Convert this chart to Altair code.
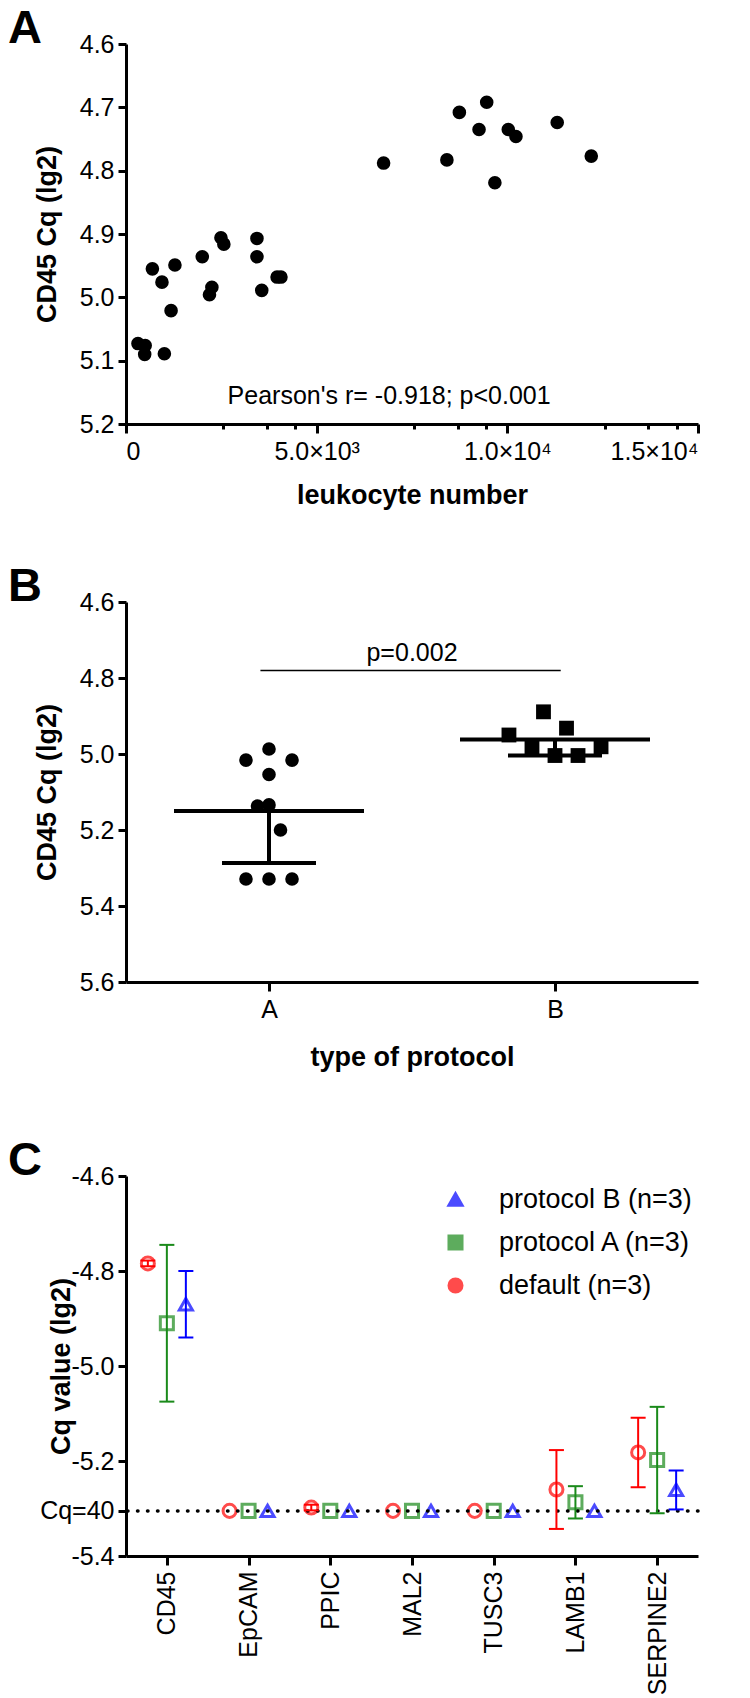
import altair as alt
import pandas as pd

FONT = "Liberation Sans, Arial, sans-serif"

# ---------------- Panel A data ----------------
leukocytes = [314, 503, 490, 1006, 692, 943, 1283, 1182, 2000, 2252, 2189, 2490, 2566,
              3434, 3434, 3560, 3962, 4063, 6755, 8415, 8742, 9459, 9258, 9673, 10025,
              10226, 11308, 12201]
cd45_cq = [5.073, 5.076, 5.090, 5.089, 4.955, 4.976, 4.949, 5.021, 4.936, 4.984, 4.996,
           4.906, 4.916, 4.907, 4.936, 4.989, 4.968, 4.968, 4.788, 4.783, 4.708, 4.692,
           4.735, 4.819, 4.735, 4.746, 4.724, 4.777]
x_major = [0, 5000, 10000, 15000]
x_major_labels = ["0", "5.0×10³", "1.0×10⁴", "1.5×10⁴"]
x_minor = [2550, 3700, 4440, 7550, 8700, 9440, 12550, 13700, 14440]
yA_ticks = [4.6, 4.7, 4.8, 4.9, 5.0, 5.1, 5.2]
pearson_text = ["Pearson's r= -0.918; p<0.001"]
pearson_pos = [6900]
pearson_cq = [5.155]

# ---------------- Panel B data ----------------
protocols = ["A", "B"]
groupA_cq = [4.987, 5.016, 5.016, 5.054, 5.137, 5.134, 5.200, 5.329, 5.329, 5.329]
groupA_jit = [0, -1, 1, 0, -0.5, 0, 0.5, -1, 0, 1]
groupB_cq = [4.889, 4.932, 4.950, 4.981, 4.981, 5.004, 5.004]
groupB_jit = [-0.5, 0.5, -2, -1, 2, 0, 1]
protocol_mean = [5.150, 4.962]
protocol_sd = [0.137, 0.042]
yB_ticks = [4.6, 4.8, 5.0, 5.2, 5.4, 5.6]
p_text = ["p=0.002"]
p_line_cq = [4.78]
p_line_from = [-0.03]   # relative to protocol A position
p_line_to = [0.02]      # relative to protocol B position

# ---------------- Panel C data ----------------
genes = ["CD45", "EpCAM", "PPIC", "MAL2", "TUSC3", "LAMB1", "SERPINE2"]
series_names = ["default (n=3)", "protocol A (n=3)", "protocol B (n=3)"]
legend_order = ["protocol B (n=3)", "protocol A (n=3)", "default (n=3)"]
legend_colors = ["#0000ff", "#1a8a1a", "#ff0000"]
legend_shapes = ["triangle-up", "square", "circle"]
series_offset = [-1, 0, 1]
default_mean = [-4.784, -5.305, -5.298, -5.305, -5.305, -5.260, -5.182]
default_sd = [0.006, 0, 0.006, 0, 0, 0.083, 0.073]
protA_mean = [-4.910, -5.305, -5.305, -5.305, -5.305, -5.287, -5.198]
protA_sd = [0.165, 0, 0, 0, 0, 0.034, 0.112]
protB_mean = [-4.870, -5.305, -5.305, -5.305, -5.305, -5.305, -5.261]
protB_sd = [0.070, 0, 0, 0, 0, 0, 0.041]
cq40_value = -5.305
cq40_label = "Cq=40"
yC_ticks = [-4.6, -4.8, -5.0, -5.2, cq40_value, -5.4]

W = 572
H = 380
TICK_FS = 25
TITLE_FS = 27


def letter(txt):
    return alt.TitleParams(text=txt, anchor="start", frame="group", fontSize=47,
                           fontWeight="bold", font=FONT, color="black",
                           baseline="alphabetic", offset=0, dx=-118, dy=58)


# ---------------- Panel A ----------------
dfA = pd.DataFrame({"leuko": leukocytes, "cq": cd45_cq})
lab = "''"
for v, t in zip(reversed(x_major), reversed(x_major_labels)):
    lab = f"datum.value == {v} ? '{t}' : ({lab})"
major_list = "[" + ",".join(str(v) for v in x_major) + "]"

xA = alt.X("leuko:Q", scale=alt.Scale(domain=[0, 15000], nice=False, zero=False),
           axis=alt.Axis(title="leukocyte number", values=sorted(x_major + x_minor),
                         labelExpr=lab, labelPadding=6, titlePadding=18,
                         tickSize={"condition": {"test": f"indexof({major_list}, datum.value) < 0",
                                                 "value": 5}, "value": 9}))
yA = alt.Y("cq:Q", scale=alt.Scale(domain=[4.6, 5.2], reverse=True, nice=False, zero=False),
           axis=alt.Axis(title="CD45 Cq (lg2)", values=yA_ticks, format=".1f", titlePadding=18))

pointsA = alt.Chart(dfA).mark_circle(size=185, color="black", opacity=1).encode(x=xA, y=yA)
textA = alt.Chart(pd.DataFrame({"t": pearson_text, "x": pearson_pos, "y": pearson_cq})).mark_text(
    font=FONT, fontSize=25, color="black", align="center", baseline="middle"
).encode(x="x:Q", y="y:Q", text="t:N")
panelA = alt.layer(pointsA, textA).properties(width=W, height=H, title=letter("A"))

# ---------------- Panel B ----------------
dfB = pd.DataFrame({
    "group": ["A"] * len(groupA_cq) + ["B"] * len(groupB_cq),
    "cq": groupA_cq + groupB_cq,
    "jit": groupA_jit + groupB_jit,
})
dfBs = pd.DataFrame({"group": protocols, "mean": protocol_mean, "sd": protocol_sd})
prot_list = "['" + "','".join(protocols) + "']"
pos_expr = f"indexof({prot_list}, datum.group) + 0.5"
JIT = 0.0805

xB_axis = alt.Axis(title="type of protocol", values=[0.5, 1.5],
                   labelExpr=f"{prot_list}[round(datum.value - 0.5)]",
                   labelPadding=6, titlePadding=22, tickSize=9)
xB_scale = alt.Scale(domain=[0, 2], nice=False, zero=False)
yB_scale = alt.Scale(domain=[4.6, 5.6], reverse=True, nice=False, zero=False)
yB_axis = alt.Axis(title="CD45 Cq (lg2)", values=yB_ticks, format=".1f", titlePadding=18)

baseB = alt.Chart(dfB).transform_calculate(pos=pos_expr).transform_calculate(
    xj=f"datum.pos + datum.jit * {JIT}")
circB = baseB.transform_filter("datum.group == 'A'").mark_circle(size=185, color="black", opacity=1).encode(
    x=alt.X("xj:Q", scale=xB_scale, axis=xB_axis), y=alt.Y("cq:Q", scale=yB_scale, axis=yB_axis))
sqB = baseB.transform_filter("datum.group == 'B'").mark_square(size=220, color="black", opacity=1).encode(
    x="xj:Q", y="cq:Q")

statB = alt.Chart(dfBs).transform_calculate(pos=pos_expr).transform_calculate(
    lo="datum.mean + datum.sd")
meanB = statB.mark_tick(orient="horizontal", size=190, thickness=4, color="black", opacity=1).encode(
    x="pos:Q", y="mean:Q")
errB = statB.mark_rule(strokeWidth=4, color="black").encode(x="pos:Q", y="mean:Q", y2="lo:Q")
capB = statB.mark_tick(orient="horizontal", size=94, thickness=4, color="black", opacity=1).encode(
    x="pos:Q", y="lo:Q")

sigdf = pd.DataFrame({"t": p_text, "y": p_line_cq, "a": p_line_from, "b": p_line_to})
sigB = alt.Chart(sigdf).transform_calculate(x1="0.5 + datum.a", x2="1.5 + datum.b").mark_rule(
    strokeWidth=1.5, color="black").encode(x="x1:Q", x2="x2:Q", y="y:Q")
sigT = alt.Chart(sigdf).transform_calculate(xm="1.0").mark_text(
    font=FONT, fontSize=25, color="black", baseline="bottom", dy=-4
).encode(x="xm:Q", y="y:Q", text="t:N")

panelB = alt.layer(circB, sqB, meanB, errB, capB, sigB, sigT).properties(
    width=W, height=H, title=letter("B"))

# ---------------- Panel C ----------------
rows = []
for s, off, means, sds in zip(series_names, series_offset,
                              [default_mean, protA_mean, protB_mean],
                              [default_sd, protA_sd, protB_sd]):
    for g, m, sd in zip(genes, means, sds):
        rows.append({"gene": g, "series": s, "off": off, "mean": m, "sd": sd})
dfC = pd.DataFrame(rows)

xC = alt.X("gene:N", scale=alt.Scale(type="point", domain=genes, padding=0.5),
           axis=alt.Axis(title=None, labelAngle=270, labelPadding=6, tickSize=9))
xoffC = alt.XOffset("off:Q", scale=alt.Scale(domain=[-1, 1], range=[-19, 19]))
yC_lab = (f"abs(datum.value - ({cq40_value})) < 0.001 ? '{cq40_label}' : "
          "'-' + format(abs(datum.value), '.1f')")
yC = alt.Y("mean:Q", scale=alt.Scale(domain=[-5.4, -4.6], nice=False, zero=False),
           axis=alt.Axis(title="Cq value (lg2)", values=yC_ticks, labelExpr=yC_lab,
                         titleX=-51))
colC = alt.Color("series:N", scale=alt.Scale(domain=legend_order, range=legend_colors),
                 legend=alt.Legend(title=None, orient="none", legendX=316, legendY=1142,
                                   labelFontSize=27, labelFont=FONT, labelColor="black",
                                   labelLimit=400, symbolSize=170, symbolStrokeWidth=3,
                                   symbolFillColor="transparent",
                                   rowPadding=15, labelOffset=30, padding=0))
shapeC = alt.Shape("series:N", scale=alt.Scale(domain=legend_order, range=legend_shapes))
strokeC = alt.Stroke("series:N", scale=alt.Scale(domain=legend_order, range=legend_colors),
                     legend=None)
fillC = alt.Fill("series:N", scale=alt.Scale(domain=legend_order, range=legend_colors),
                 legend=None)

dotted = alt.Chart(pd.DataFrame({"y": [cq40_value]})).mark_rule(
    strokeDash=[0.5, 9.5], strokeWidth=3.5, strokeCap="round", color="black").encode(y="y:Q")

ptsC = alt.Chart(dfC).mark_point(filled=False, size=170, strokeWidth=3).encode(
    x=xC, xOffset=xoffC, y=yC, color=colC, shape=shapeC, fill=alt.value("transparent"))

baseC = alt.Chart(dfC).transform_filter("datum.sd > 0").transform_calculate(
    lo="datum.mean - datum.sd", hi="datum.mean + datum.sd")
errC = baseC.mark_rule(strokeWidth=2).encode(
    x=xC, xOffset=xoffC, y=alt.Y("lo:Q"), y2="hi:Q", stroke=strokeC)
capLo = baseC.mark_tick(orient="horizontal", size=15, thickness=2, opacity=1).encode(
    x=xC, xOffset=xoffC, y="lo:Q", fill=fillC)
capHi = baseC.mark_tick(orient="horizontal", size=15, thickness=2, opacity=1).encode(
    x=xC, xOffset=xoffC, y="hi:Q", fill=fillC)

panelC = alt.layer(ptsC, dotted, errC, capLo, capHi).properties(
    width=W, height=H, title=letter("C"))

chart = alt.vconcat(alt.vconcat(panelA, panelB, spacing=55), panelC, spacing=67).properties(
    padding={"left": 0, "top": -3, "right": 5, "bottom": 0}
).configure_view(stroke=None).configure_axis(
    domainColor="black", domainWidth=3, tickColor="black", tickWidth=3, tickSize=8,
    labelColor="black", labelFont=FONT, labelFontSize=TICK_FS, titleFont=FONT,
    titleFontSize=TITLE_FS, titleFontWeight="bold", titleColor="black", grid=False, labelPadding=4
)

chart.save("out.html", embed_options={"renderer": "svg", "actions": False})
